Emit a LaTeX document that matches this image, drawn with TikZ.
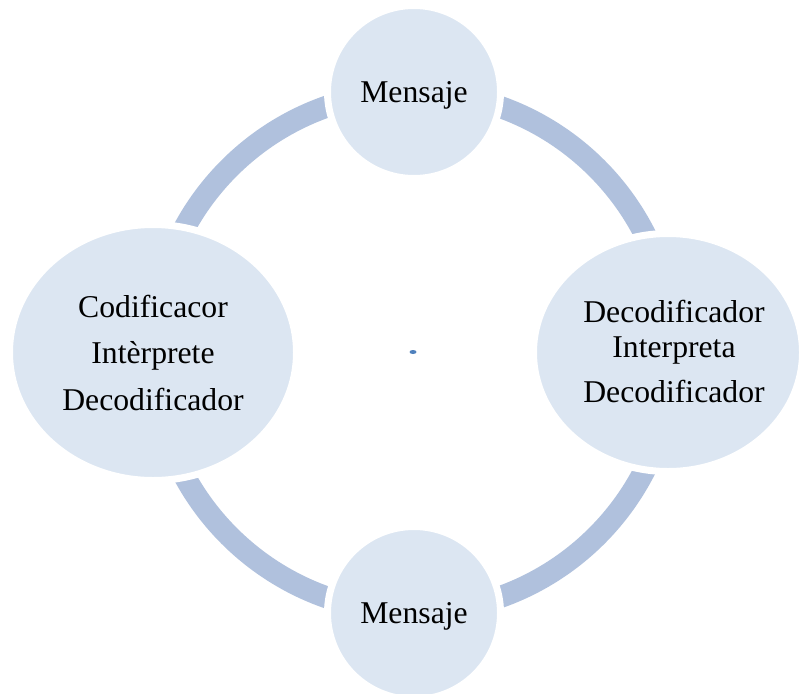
\documentclass[tikz,border=0pt]{standalone}
\usepackage{fontspec}
\setmainfont{Liberation Serif}
\usetikzlibrary{shapes.geometric}
\definecolor{ringc}{RGB}{176,193,221}
\definecolor{nodefill}{RGB}{220,230,242}
\definecolor{dotc}{RGB}{79,129,189}
\tikzset{
  ring/.style={draw=ringc, line width=22pt},
  bubble/.style={ellipse, fill=nodefill, draw=white, line width=7pt, inner sep=0pt},
  txt/.style={anchor=base, inner sep=0pt, font=\fontsize{31.7}{38}\selectfont}
}
\begin{document}
\begin{tikzpicture}[x=1pt,y=-1pt]
\useasboundingbox (0,0) rectangle (799,693);
\clip (0,0) rectangle (799,693);
\coordinate (c) at (413,352);
\draw[ring] (c) circle (260);
\node[bubble, minimum width=173pt, minimum height=173pt] (top) at (414,92) {};
\node[bubble, minimum width=173pt, minimum height=173pt] (bot) at (414,613) {};
\node[bubble, minimum width=287pt, minimum height=256pt] (left) at (153,352.5) {};
\node[bubble, minimum width=269pt, minimum height=238pt] (right) at (668,352.5) {};
\node[fill=dotc, ellipse, inner sep=0pt, minimum width=7pt, minimum height=4pt] (dot) at (c) {};
\node[txt] (tt) at (414,102) {Mensaje};
\node[txt] (bt) at (414,623) {Mensaje};
\node[txt] (l1) at (153,317) {Codificacor};
\node[txt] (l2) at (153,363) {Intèrprete};
\node[txt] (l3) at (153,410) {Decodificador};
\node[txt] (r1) at (674,322) {Decodificador};
\node[txt] (r2) at (674,357) {Interpreta};
\node[txt] (r3) at (674,402) {Decodificador};
\end{tikzpicture}
\end{document}
